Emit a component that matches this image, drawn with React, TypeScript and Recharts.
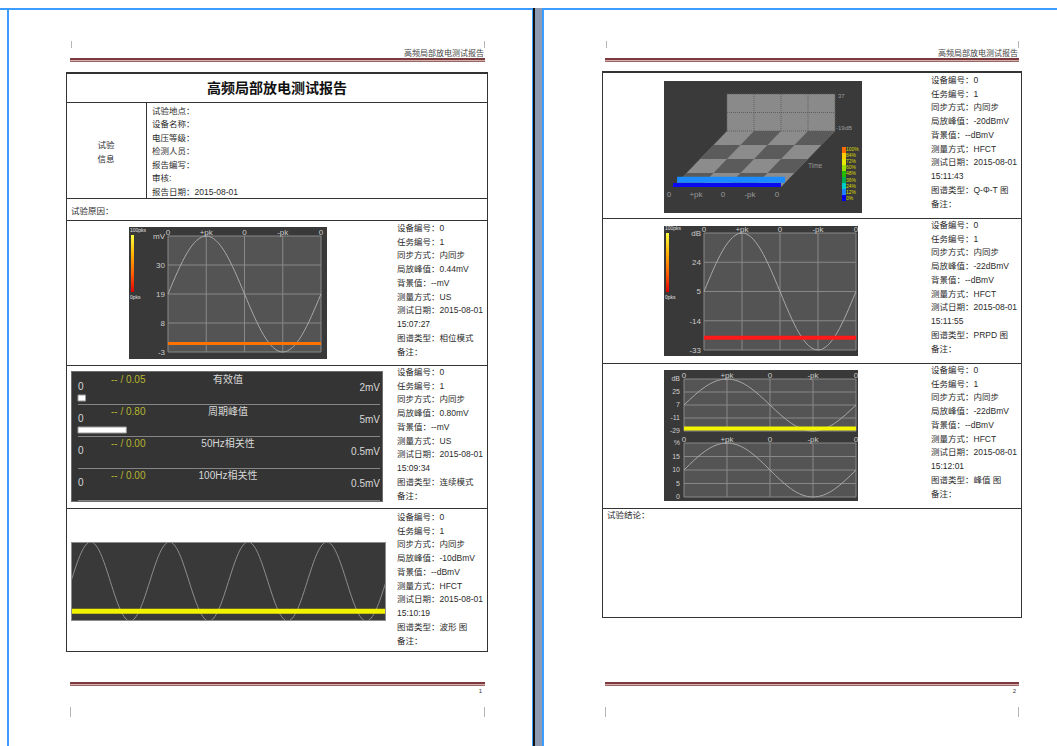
import React from "react";
import {
  Area,
  Bar,
  BarChart,
  CartesianGrid,
  ComposedChart,
  Line,
  LineChart,
  ReferenceArea,
  ReferenceLine,
  XAxis,
  YAxis,
} from "recharts";

const DOC_FONT = '"Liberation Sans", "Noto Sans CJK SC", sans-serif';
const TEXT_COLOR = "#2b2b2b";

// ---------- report text ----------
const reportTitle = "高频局部放电测试报告";
const infoLabels = ["试验地点：", "设备名称：", "电压等级：", "检测人员：", "报告编写：", "审核:", "报告日期：2015-08-01"];
const deviceNos = ["0", "0", "0", "0", "0", "0"];
const taskNos = ["1", "1", "1", "1", "1", "1"];
const syncModes = ["内同步", "内同步", "内同步", "内同步", "内同步", "内同步"];
const peakValues = ["0.44mV", "0.80mV", "-10dBmV", "-20dBmV", "-22dBmV", "-22dBmV"];
const backgroundValues = ["--mV", "--mV", "--dBmV", "--dBmV", "--dBmV", "--dBmV"];
const measureModes = ["US", "US", "HFCT", "HFCT", "HFCT", "HFCT"];
const testDates = ["2015-08-01", "2015-08-01", "2015-08-01", "2015-08-01", "2015-08-01", "2015-08-01"];
const testTimes = ["15:07:27", "15:09:34", "15:10:19", "15:11:43", "15:11:55", "15:12:01"];
const mapTypes = ["相位模式", "连续模式", "波形 图", "Q-Φ-T 图", "PRPD 图", "峰值 图"];

// ---------- shared phase axis ----------
const phaseTicks = [0, 90, 180, 270, 360];
const phaseLabels = ["0", "+pk", "0", "-pk", "0"];
const samplePhases = [0, 45, 90, 135, 180, 225, 270, 315, 360];

// 相位模式 (US, mV)
const usSine = [19, 34.6, 41, 34.6, 19, 3.4, -3, 3.4, 19];
const usSignal = 0.2;
const usTicks = [-3, 8, 19, 30, 41];

// PRPD (HFCT, dB)
const prpdSine = [5, 31.9, 43, 31.9, 5, -21.9, -33, -21.9, 5];
const prpdSignal = -25;
const prpdTicks = [-33, -14, 5, 24, 43];

// 峰值图
const peakAmpSine = [7, 32.5, 43, 32.5, 7, -18.5, -29, -18.5, 7];
const peakAmpSignal = -25.5;
const peakAmpTicks = [-29, -11, 7, 25, 43];
const peakCountSine = [10, 17.1, 20, 17.1, 10, 2.9, 0, 2.9, 10];
const peakCountTicks = [0, 5, 10, 15, 20];

// 波形图 (4 power cycles)
const wavePhases = [
  0, 45, 90, 135, 180, 225, 270, 315, 360, 405, 450, 495, 540, 585, 630, 675, 720,
  765, 810, 855, 900, 945, 990, 1035, 1080, 1125, 1170, 1215, 1260, 1305, 1350, 1395, 1440,
];
const waveSine = [
  0, 0.71, 1, 0.71, 0, -0.71, -1, -0.71, 0, 0.71, 1, 0.71, 0, -0.71, -1, -0.71, 0,
  0.71, 1, 0.71, 0, -0.71, -1, -0.71, 0, 0.71, 1, 0.71, 0, -0.71, -1, -0.71, 0,
];
const waveSignal = -0.75;

// 连续模式
const contNames = ["有效值", "周期峰值", "50Hz相关性", "100Hz相关性"];
const contValues = [0.05, 0.8, 0.0, 0.0];
const contMax = [2, 5, 0.5, 0.5];
const contMaxLabels = ["2mV", "5mV", "0.5mV", "0.5mV"];

// Q-Φ-T
const qptPhaseEdges = [0, 90, 180, 270, 360];
const qptTimeEdges = [0, 1, 2, 3, 4];
const qptWallDb = [-19, 9, 37];
const qptSlabTimes = [0.3, 0];
const qptSlabDb = [9, 6];
const qptLegendLabels = ["100%", "84%", "72%", "60%", "48%", "36%", "24%", "12%", "0%"];

// projection of the pseudo-3D view
const SKEW_X = 45;
const SKEW_Y = 14;
const DB_Y = 0.66;
const projX = (phase: number, t: number) => phase + t * SKEW_X;
const wallY = (db: number) => 4 * SKEW_Y + (db - qptWallDb[0]) * DB_Y;

function Txt({ x, y, size = 8.5, color = TEXT_COLOR, anchor = "start", bold = false, children }: any) {
  const style: React.CSSProperties = {
    position: "absolute",
    top: y - size * 0.6,
    fontSize: size,
    lineHeight: `${size * 1.2}px`,
    color,
    whiteSpace: "nowrap",
    fontFamily: DOC_FONT,
    fontWeight: bold ? 700 : 400,
  };
  if (anchor === "end") style.right = 1057 - x;
  else if (anchor === "middle") {
    style.left = x;
    style.transform = "translateX(-50%)";
  } else style.left = x;
  return <div style={style}>{children}</div>;
}

function HLine({ x1, x2, y, w = 1, c = "#333" }: any) {
  return <div style={{ position: "absolute", left: x1, top: y, width: x2 - x1, height: w, background: c }} />;
}

function VLine({ x, y1, y2, w = 1, c = "#333" }: any) {
  return <div style={{ position: "absolute", left: x, top: y1, width: w, height: y2 - y1, background: c }} />;
}

function PageChrome({ x1, x2, page }: any) {
  return (
    <>
      <VLine x={x1 + 1} y1={41} y2={48} c="#b5b5b5" />
      <VLine x={x2 - 1} y1={41} y2={48} c="#b5b5b5" />
      <Txt x={x2 - 1} y={54} size={8} color="#444" anchor="end">
        {reportTitle}
      </Txt>
      <div
        style={{
          position: "absolute",
          left: x1,
          top: 58,
          width: x2 - x1,
          height: 1,
          background: "#d2b0b0",
          borderTop: "2px solid #7c3a3a",
          borderBottom: "1px solid #9a6666",
        }}
      />
      <div
        style={{
          position: "absolute",
          left: x1,
          top: 682,
          width: x2 - x1,
          height: 1,
          background: "#d2b0b0",
          borderTop: "2px solid #7c3a3a",
          borderBottom: "1px solid #9a6666",
        }}
      />
      <Txt x={x2 - 3} y={692} size={6} color="#333" anchor="end">
        {page}
      </Txt>
      <VLine x={x1} y1={707} y2={717} c="#b5b5b5" />
      <VLine x={x2 - 1} y1={707} y2={717} c="#b5b5b5" />
    </>
  );
}

function SideInfo({ x, y, i }: any) {
  const lines = [
    `设备编号：${deviceNos[i]}`,
    `任务编号：${taskNos[i]}`,
    `同步方式：${syncModes[i]}`,
    `局放峰值：${peakValues[i]}`,
    `背景值：${backgroundValues[i]}`,
    `测量方式：${measureModes[i]}`,
    `测试日期：${testDates[i]}`,
    testTimes[i],
    `图谱类型：${mapTypes[i]}`,
    "备注：",
  ];
  return (
    <>
      {lines.map((s, k) => (
        <Txt key={k} x={x} y={y + k * 13.75}>
          {s}
        </Txt>
      ))}
    </>
  );
}

const axisTick = { fill: "#cdcdcd", fontSize: 8, fontFamily: DOC_FONT };

function PhaseChart(p: any) {
  const data = samplePhases.map((phase, i) => ({ phase, sine: p.sine[i], signal: p.signal }));
  const yTop = p.yTicks[p.yTicks.length - 1];
  return (
    <LineChart
      width={p.width}
      height={p.height}
      data={data}
      margin={{ top: 0, right: p.right, bottom: p.bottom, left: 0 }}
    >
      <CartesianGrid stroke="#888888" fill="#545454" />
      <XAxis
        type="number"
        dataKey="phase"
        orientation="top"
        domain={[0, 360]}
        ticks={phaseTicks}
        interval={0}
        tickFormatter={(v: number) => phaseLabels[phaseTicks.indexOf(v)]}
        height={p.xHeight}
        axisLine={false}
        tickLine={false}
        tickSize={0}
        tickMargin={1}
        tick={axisTick}
      />
      <YAxis
        type="number"
        domain={[p.yTicks[0], yTop]}
        ticks={p.yTicks}
        interval={0}
        tickFormatter={(v: number) => (v === yTop ? p.unit : String(v))}
        width={p.yWidth}
        axisLine={false}
        tickLine={false}
        tickSize={0}
        tickMargin={p.tickGap ?? 3}
        tick={{ ...axisTick, fontSize: p.fontSize ?? 8 }}
      />
      <Line type="natural" dataKey="sine" stroke="#a8a8a8" strokeWidth={1} dot={false} isAnimationActive={false} />
      {p.signalColor && (
        <Line
          type="linear"
          dataKey="signal"
          stroke={p.signalColor}
          strokeWidth={p.signalWidth}
          dot={false}
          isAnimationActive={false}
        />
      )}
    </LineChart>
  );
}

function PksLegend({ left, top, height }: any) {
  return (
    <>
      <div
        style={{
          position: "absolute",
          left,
          top,
          width: 2.5,
          height,
          background: "linear-gradient(to bottom, #ffff40, #ffb000 35%, #ff5a00 70%, #e00000)",
        }}
      />
      <div style={{ position: "absolute", left: left - 1, top: top - 8, fontSize: 5, color: "#e0e0e0", fontFamily: DOC_FONT }}>
        100pks
      </div>
      <div style={{ position: "absolute", left: left - 1, top: top + height + 2, fontSize: 5, color: "#e0e0e0", fontFamily: DOC_FONT }}>
        0pks
      </div>
    </>
  );
}

function ContinuousRow({ i }: any) {
  const axisY = 401 + 32 * i;
  const max = contMax[i];
  const ticks = Array.from({ length: 11 }, (_, k) => (max * k) / 10);
  return (
    <>
      <Txt x={111} y={axisY - 21} size={10} color="#b6b62e">
        {`-- / ${contValues[i].toFixed(2)}`}
      </Txt>
      <Txt x={228} y={axisY - 21} size={10} color="#d8d8d8" anchor="middle">
        {contNames[i]}
      </Txt>
      <Txt x={78} y={axisY - 14} size={10} color="#d8d8d8">
        0
      </Txt>
      <Txt x={380} y={axisY - 13} size={10} color="#d8d8d8" anchor="end">
        {contMaxLabels[i]}
      </Txt>
      <div style={{ position: "absolute", left: 76, top: axisY - 10 }}>
        <BarChart
          width={306}
          height={14}
          layout="vertical"
          data={[{ name: contNames[i], value: contValues[i] }]}
          margin={{ top: 0, right: 2, bottom: 0, left: 2 }}
        >
          <XAxis
            type="number"
            domain={[0, max]}
            ticks={ticks}
            interval={0}
            height={4}
            tick={false}
            tickSize={3}
            mirror
            axisLine={{ stroke: "#d6d6d6" }}
            tickLine={{ stroke: "#d6d6d6" }}
          />
          <YAxis type="category" dataKey="name" hide />
          <Bar dataKey="value" fill="#ffffff" stroke="#9c9c9c" barSize={6} isAnimationActive={false} />
        </BarChart>
      </div>
    </>
  );
}

function parallelogram(p0: number, p1: number, t0: number, t1: number) {
  const y0 = t0 * SKEW_Y;
  const y1 = t1 * SKEW_Y;
  return [
    { x: projX(p0, t0), r: [y0, y0] },
    { x: projX(p0, t1), r: [y0, y1] },
    { x: projX(p1, t0), r: [y0, y1] },
    { x: projX(p1, t1), r: [y1, y1] },
  ];
}

function QptChart() {
  const last = qptPhaseEdges.length - 1;
  const floor = parallelogram(qptPhaseEdges[0], qptPhaseEdges[last], qptTimeEdges[0], qptTimeEdges[last]);
  const tiles: any[] = [];
  for (let i = 0; i < last; i++) {
    for (let ti = 0; ti < qptTimeEdges.length - 1; ti++) {
      if ((i + (qptTimeEdges.length - 2 - ti)) % 2 === 1) {
        tiles.push(parallelogram(qptPhaseEdges[i], qptPhaseEdges[i + 1], qptTimeEdges[ti], qptTimeEdges[ti + 1]));
      }
    }
  }
  const slabs = qptSlabTimes.map((t, k) => {
    const base = t * SKEW_Y;
    const top = base + qptSlabDb[k] * DB_Y;
    return [
      { x: projX(qptPhaseEdges[0], t), r: [base, top] },
      { x: projX(qptPhaseEdges[last], t), r: [base, top] },
    ];
  });
  const slabColors = ["#1a8cff", "#0a0af0"];
  const wallX1 = projX(qptPhaseEdges[0], 4);
  const wallX2 = projX(qptPhaseEdges[last], 4);
  const labelTicks = phaseTicks.map((p) => projX(p, -0.3));
  return (
    <ComposedChart width={198} height={132} margin={{ top: 0, right: 0, bottom: 0, left: 0 }}>
      <XAxis
        type="number"
        dataKey="x"
        domain={[-30, 630]}
        ticks={labelTicks}
        interval={0}
        tickFormatter={(v: number) => phaseLabels[labelTicks.indexOf(v)]}
        height={23}
        axisLine={false}
        tickLine={false}
        tickSize={0}
        tickMargin={1}
        tick={{ fill: "#9a9a9a", fontSize: 8, fontFamily: DOC_FONT }}
        allowDataOverflow
      />
      <YAxis type="number" domain={[-3, 106]} hide allowDataOverflow />
      <ReferenceArea
        x1={wallX1}
        x2={wallX2}
        y1={wallY(qptWallDb[0])}
        y2={wallY(qptWallDb[qptWallDb.length - 1])}
        fill="#8a8a8a"
        fillOpacity={1}
        stroke="none"
      />
      {qptPhaseEdges.map((p) => (
        <ReferenceLine
          key={`v${p}`}
          segment={[
            { x: projX(p, 4), y: wallY(qptWallDb[0]) },
            { x: projX(p, 4), y: wallY(qptWallDb[qptWallDb.length - 1]) },
          ]}
          stroke="#5e5e5e"
          strokeDasharray="1 1"
        />
      ))}
      {qptWallDb.map((db) => (
        <ReferenceLine
          key={`h${db}`}
          segment={[
            { x: wallX1, y: wallY(db) },
            { x: wallX2, y: wallY(db) },
          ]}
          stroke="#5e5e5e"
          strokeDasharray="1 1"
        />
      ))}
      <Area data={floor} dataKey="r" type="linear" stroke="none" fill="#8c8c8c" fillOpacity={1} isAnimationActive={false} />
      {tiles.map((d, k) => (
        <Area key={`t${k}`} data={d} dataKey="r" type="linear" stroke="none" fill="#5b5b5b" fillOpacity={1} isAnimationActive={false} />
      ))}
      {slabs.map((d, k) => (
        <Area key={`s${k}`} data={d} dataKey="r" type="linear" stroke="none" fill={slabColors[k]} fillOpacity={1} isAnimationActive={false} />
      ))}
    </ComposedChart>
  );
}

const legendColors = ["#ff6a00", "#ffcc00", "#e8e800", "#9cdc00", "#22bb00", "#00aa55", "#00cccc", "#1e7fff", "#0000ee"];

export default function App() {
  const waveData = wavePhases.map((phase, i) => ({ phase, sine: waveSine[i], signal: waveSignal }));
  return (
    <div
      style={{
        position: "absolute",
        left: 0,
        top: 0,
        width: 1057,
        height: 746,
        background: "#ffffff",
        overflow: "hidden",
        fontFamily: DOC_FONT,
      }}
    >
      {/* page frames */}
      <HLine x1={0} x2={1057} y={8} w={1.5} c="#3d9cff" />
      <VLine x={7} y1={8} y2={746} w={1.5} c="#3d9cff" />
      <VLine x={532} y1={8} y2={746} w={1} c="#3d9cff" />
      <VLine x={533} y1={8} y2={746} w={2} c="#111" />
      <VLine x={535} y1={8} y2={746} w={7} c="#8e9ab2" />
      <VLine x={542} y1={8} y2={746} w={1.5} c="#3d9cff" />

      <PageChrome x1={70} x2={485} page="1" />
      <PageChrome x1={605} x2={1019} page="2" />

      {/* ---------- left page table ---------- */}
      <HLine x1={66} x2={488} y={72} w={2} />
      <HLine x1={66} x2={488} y={651} />
      <VLine x={66} y1={72} y2={652} />
      <VLine x={487} y1={72} y2={652} />
      <HLine x1={66} x2={488} y={102} />
      <HLine x1={66} x2={488} y={198} />
      <HLine x1={66} x2={488} y={220} />
      <HLine x1={66} x2={488} y={365} />
      <HLine x1={66} x2={488} y={508} />
      <VLine x={146} y1={102} y2={198} />

      <Txt x={277} y={88} size={14} color="#111" anchor="middle" bold>
        {reportTitle}
      </Txt>
      <Txt x={106} y={145} anchor="middle">
        试验
      </Txt>
      <Txt x={106} y={159} anchor="middle">
        信息
      </Txt>
      {infoLabels.map((s, k) => (
        <Txt key={k} x={152} y={111 + k * 13.45}>
          {s}
        </Txt>
      ))}
      <Txt x={71} y={211}>
        试验原因：
      </Txt>

      {/* 相位模式 */}
      <div style={{ position: "absolute", left: 129, top: 227, width: 198, height: 132, background: "#393939" }}>
        <PhaseChart
          width={198}
          height={132}
          sine={usSine}
          signal={usSignal}
          yTicks={usTicks}
          unit="mV"
          yWidth={39}
          xHeight={9}
          right={6}
          bottom={7}
          signalColor="#ff7200"
          signalWidth={3}
        />
        <PksLegend left={2} top={8} height={57} />
      </div>
      <SideInfo x={397} y={228} i={0} />

      {/* 连续模式 */}
      <div
        style={{
          position: "absolute",
          left: 71,
          top: 371,
          width: 312,
          height: 131,
          background: "#343434",
          boxSizing: "border-box",
          border: "1px solid #6e6e6e",
        }}
      />
      {contNames.map((_, i) => (
        <ContinuousRow key={i} i={i} />
      ))}
      <SideInfo x={397} y={372} i={1} />

      {/* 波形图 */}
      <div style={{ position: "absolute", left: 71, top: 542, width: 315, height: 79, background: "#393939" }}>
        <LineChart width={315} height={79} data={waveData} margin={{ top: 0, right: 0, bottom: 0, left: 0 }}>
          <XAxis type="number" dataKey="phase" domain={[0, 1440]} hide />
          <YAxis type="number" domain={[-1, 1]} hide />
          <Line type="natural" dataKey="sine" stroke="#8e8e8e" strokeWidth={1} dot={false} isAnimationActive={false} />
          <Line type="linear" dataKey="signal" stroke="#f2f200" strokeWidth={5} dot={false} isAnimationActive={false} />
        </LineChart>
        <div
          style={{
            position: "absolute",
            left: 0,
            top: 0,
            width: 315,
            height: 79,
            boxSizing: "border-box",
            border: "1px solid #8c8c8c",
          }}
        />
      </div>
      <SideInfo x={397} y={517} i={2} />

      {/* ---------- right page table ---------- */}
      <HLine x1={602} x2={1022} y={71} w={2} />
      <HLine x1={602} x2={1022} y={617} />
      <VLine x={602} y1={71} y2={618} />
      <VLine x={1021} y1={71} y2={618} />
      <HLine x1={602} x2={1022} y={218} />
      <HLine x1={602} x2={1022} y={363} />
      <HLine x1={602} x2={1022} y={508} />

      {/* Q-Φ-T */}
      <div style={{ position: "absolute", left: 664, top: 81, width: 198, height: 132, background: "#3a3a3a" }}>
        <QptChart />
      </div>
      <Txt x={838} y={97} size={6} color="#9a9a9a">
        37
      </Txt>
      <Txt x={836} y={129} size={6} color="#9a9a9a">
        -19dB
      </Txt>
      <Txt x={808} y={166} size={6.5} color="#9a9a9a">
        Time
      </Txt>
      {legendColors.map((c, k) => (
        <div
          key={c}
          style={{ position: "absolute", left: 842, top: 147 + k * 6, width: 4, height: 6, background: c }}
        />
      ))}
      {qptLegendLabels.map((s, k) => (
        <div
          key={s}
          style={{
            position: "absolute",
            left: 846,
            top: 146 + k * 6.1,
            fontSize: 5,
            lineHeight: "6px",
            color: "#d8d800",
            fontFamily: DOC_FONT,
          }}
        >
          {s}
        </div>
      ))}
      <SideInfo x={931} y={80} i={3} />

      {/* PRPD */}
      <div style={{ position: "absolute", left: 664, top: 226, width: 194, height: 130, background: "#393939" }}>
        <PhaseChart
          width={194}
          height={130}
          sine={prpdSine}
          signal={prpdSignal}
          yTicks={prpdTicks}
          unit="dB"
          yWidth={40}
          xHeight={7}
          right={2}
          bottom={6}
          signalColor="#ff1a1a"
          signalWidth={4}
        />
        <PksLegend left={2} top={7} height={59} />
      </div>
      <SideInfo x={931} y={225} i={4} />

      {/* 峰值图 */}
      <div style={{ position: "absolute", left: 664, top: 370, width: 194, height: 131, background: "#393939" }}>
        <div style={{ position: "absolute", left: 0, top: 0 }}>
          <PhaseChart
            width={194}
            height={65}
            sine={peakAmpSine}
            signal={peakAmpSignal}
            yTicks={peakAmpTicks}
            unit="dB"
            yWidth={20}
            xHeight={9}
            right={2}
            bottom={4}
            signalColor="#f4f400"
            signalWidth={4}
            fontSize={7}
            tickGap={4}
          />
        </div>
        <div style={{ position: "absolute", left: 0, top: 61 }}>
          <PhaseChart
            width={194}
            height={70}
            sine={peakCountSine}
            yTicks={peakCountTicks}
            unit="%"
            yWidth={20}
            xHeight={12}
            right={2}
            bottom={4}
            fontSize={7}
            tickGap={4}
          />
        </div>
      </div>
      <SideInfo x={931} y={370} i={5} />

      <Txt x={607} y={515}>
        试验结论：
      </Txt>
    </div>
  );
}
